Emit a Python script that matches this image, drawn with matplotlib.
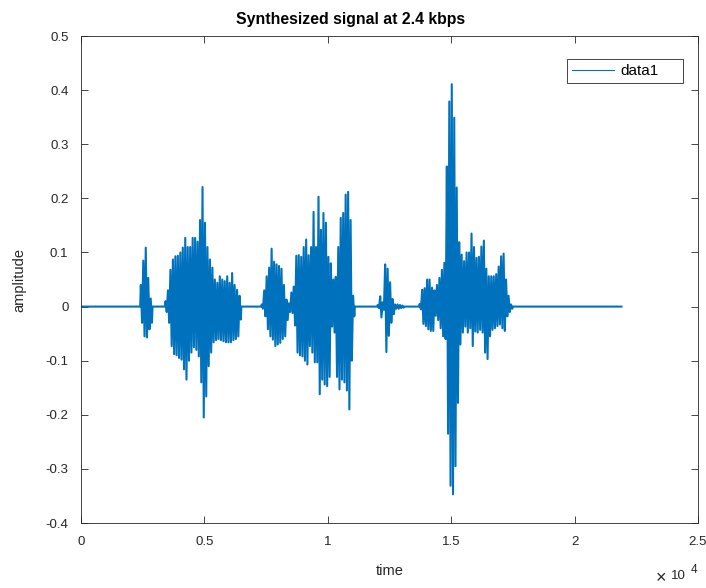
import numpy as np
import matplotlib
matplotlib.use('Agg')
import matplotlib.pyplot as plt
from matplotlib.patches import Rectangle

plt.rcParams['font.family'] = ['Liberation Sans', 'DejaVu Sans']

# waveform: max / min per 100-sample bin in each burst
bin_len = 100
signal_end = 21900

burst1_start = 2400
burst1_max = [0.04, 0.085, 0.109, 0.053, 0.015]
burst1_min = [-0.03, -0.055, -0.057, -0.042, -0.03]

burst2_start = 3400
burst2_max = [0.01, 0.03, 0.068, 0.087, 0.093, 0.094, 0.10, 0.109, 0.127, 0.11,
              0.11, 0.127, 0.127, 0.12, 0.16, 0.221, 0.155, 0.11, 0.087, 0.072,
              0.05, 0.044, 0.056, 0.05, 0.047, 0.056, 0.044, 0.062, 0.04, 0.031, 0.02]
burst2_min = [-0.01, -0.03, -0.073, -0.088, -0.09, -0.095, -0.098, -0.116, -0.135, -0.10,
              -0.085, -0.075, -0.08, -0.092, -0.14, -0.205, -0.166, -0.11, -0.085, -0.066,
              -0.062, -0.06, -0.062, -0.064, -0.066, -0.066, -0.066, -0.062, -0.06, -0.055, -0.024]

burst3_start = 7300
burst3_max = [0.004, 0.03, 0.056, 0.072, 0.107, 0.083, 0.078, 0.075, 0.07, 0.04,
              0.013, 0.006, 0.026, 0.037, 0.094, 0.095, 0.092, 0.11, 0.124, 0.095,
              0.11, 0.175, 0.11, 0.203, 0.142, 0.173, 0.155, 0.092, 0.08, 0.05,
              0.055, 0.11, 0.164, 0.173, 0.207, 0.212, 0.16, 0.02]
burst3_min = [-0.004, -0.018, -0.042, -0.055, -0.061, -0.073, -0.07, -0.067, -0.06, -0.055,
              -0.025, -0.01, -0.012, -0.035, -0.085, -0.09, -0.092, -0.10, -0.107, -0.073,
              -0.085, -0.103, -0.103, -0.162, -0.135, -0.144, -0.147, -0.13, -0.037, -0.048,
              -0.13, -0.153, -0.135, -0.14, -0.155, -0.19, -0.10, -0.018]

burst4_start = 12000
burst4_max = [0.003, 0.019, 0.008, 0.078, 0.07, 0.045, 0.014, 0.004, 0.004, 0.003, 0.002]
burst4_min = [-0.003, -0.02, -0.006, -0.084, -0.054, -0.03, -0.014, -0.004, -0.004, -0.003, -0.002]

burst5_start = 13700
burst5_max = [0.005, 0.031, 0.034, 0.05, 0.05, 0.035, 0.03, 0.04, 0.053, 0.068,
              0.081, 0.259, 0.379, 0.411, 0.349, 0.22, 0.119, 0.096, 0.084, 0.10,
              0.10, 0.135, 0.11, 0.09, 0.092, 0.111, 0.122, 0.07, 0.056, 0.056,
              0.056, 0.06, 0.074, 0.093, 0.098, 0.05, 0.02, 0.004]
burst5_min = [-0.005, -0.032, -0.036, -0.042, -0.045, -0.045, -0.017, -0.025, -0.04, -0.055,
              -0.06, -0.235, -0.331, -0.347, -0.295, -0.178, -0.07, -0.048, -0.037, -0.048,
              -0.04, -0.073, -0.046, -0.048, -0.043, -0.048, -0.085, -0.097, -0.055, -0.043,
              -0.04, -0.036, -0.033, -0.04, -0.045, -0.018, -0.01, -0.004]

x_ticks = [0, 5000, 10000, 15000, 20000, 25000]
x_tick_labels = ['0', '0.5', '1', '1.5', '2', '2.5']
y_ticks = [-0.4, -0.3, -0.2, -0.1, 0, 0.1, 0.2, 0.3, 0.4, 0.5]
y_tick_labels = ['-0.4', '-0.3', '-0.2', '-0.1', '0', '0.1', '0.2', '0.3', '0.4', '0.5']

bursts = [(burst1_start, burst1_max, burst1_min),
          (burst2_start, burst2_max, burst2_min),
          (burst3_start, burst3_max, burst3_min),
          (burst4_start, burst4_max, burst4_min),
          (burst5_start, burst5_max, burst5_min)]

# zig-zag between the max and min of each bin, flat zero in between bursts
t = [0]
y = [0]
for start, hi, lo in bursts:
    t.append(start)
    y.append(0)
    for k in range(len(hi)):
        t += [start + k*bin_len + 25, start + k*bin_len + 75]
        y += [hi[k], lo[k]]
    t.append(start + len(hi)*bin_len)
    y.append(0)
t.append(signal_end)
y.append(0)

dark = '#262626'
fig = plt.figure(figsize=(7.06, 5.88), dpi=100)
ax = fig.add_axes([0.1147, 0.1105, 0.8739, 0.8282])
ax.plot(t, y, color='#0072BD', linewidth=1.5, label='data1')

ax.set_xlim(0, 25000)
ax.set_ylim(-0.4, 0.5)
ax.set_xticks(x_ticks)
ax.set_xticklabels(x_tick_labels)
ax.set_yticks(y_ticks)
ax.set_yticklabels(y_tick_labels)
ax.tick_params(direction='in', top=True, right=True, length=5, width=0.6,
               colors=dark, labelsize=9.5, pad=9)
for s in ax.spines.values():
    s.set_linewidth(0.6)
    s.set_color(dark)

ax.set_title('Synthesized signal at 2.4 kbps', fontsize=11.4, fontweight='bold',
             pad=9, x=0.4376)
ax.set_xlabel('time', fontsize=10.5, color=dark, labelpad=12)
ax.set_ylabel('amplitude', fontsize=10.5, color=dark, labelpad=14)

# legend box drawn by hand (MATLAB leaves extra room right of the text)
ax.add_patch(Rectangle((0.7877, 0.9035), 0.188, 0.0493, transform=ax.transAxes,
                       facecolor='white', edgecolor=dark, linewidth=0.6, zorder=4))
leg = ax.legend(loc='center left', bbox_to_anchor=(0.7877, 0.9282), borderaxespad=0,
                frameon=False, fontsize=11, handlelength=2.75, handletextpad=0.45,
                borderpad=0.3)
leg.set_zorder(5)
leg.get_lines()[0].set_linewidth(0.8)

fig.text(661/706, 1 - 579/588, '×', fontsize=13, color=dark, ha='center', va='center')
fig.text(678/706, 1 - 576/588, '10', fontsize=9.5, color=dark, ha='center', va='center')
fig.text(694/706, 1 - 570/588, '4', fontsize=8.5, color=dark, ha='center', va='center')

fig.savefig('out.png', dpi=100)
